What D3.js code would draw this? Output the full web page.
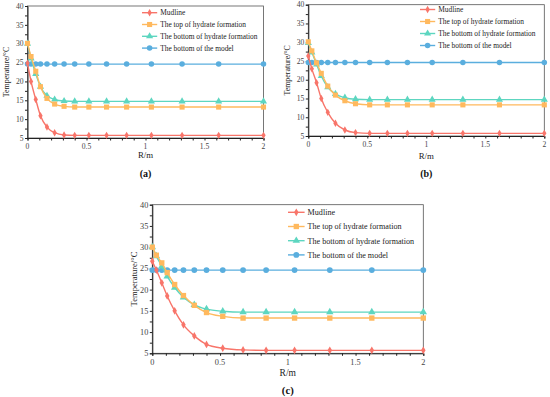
<!DOCTYPE html>
<html lang="en">
<head>
<meta charset="UTF-8">
<title>Temperature vs R</title>
<script src="https://d3js.org/d3.v7.min.js"></script>
<style>
  body { margin: 0; background: #fff; }
  svg { display: block; font-family: 'Liberation Serif', 'Times New Roman', serif; }
</style>
</head>
<body>
<svg id="chart" width="550" height="397"></svg>
<script>
// radial distance of the sample points (m)
const rValues = [0, 0.03, 0.07, 0.11, 0.165, 0.23, 0.31, 0.40, 0.52, 0.67, 0.84, 1.05, 1.31, 1.62, 2.0];

const seriesNames = ["Mudline", "The top of hydrate formation", "The bottom of hydrate formation", "The bottom of the model"];
const seriesColors = ["#f8756a", "#ffb95e", "#5dd6c0", "#5aaede"];
const seriesMarkers = ["diamond", "square", "triangle", "circle"];

// panel (a)
const mudlineA   = [24.8, 20.0, 15.2, 10.9, 7.9, 6.4, 5.8, 5.7, 5.7, 5.7, 5.7, 5.7, 5.7, 5.7, 5.7];
const topHydA    = [30.1, 26.6, 22.7, 18.6, 15.5, 14.0, 13.4, 13.2, 13.2, 13.2, 13.2, 13.2, 13.2, 13.2, 13.2];
const botHydA    = [30.0, 26.1, 22.0, 18.6, 16.2, 15.2, 14.8, 14.7, 14.7, 14.7, 14.7, 14.7, 14.7, 14.7, 14.7];
const botModelA  = [24.6, 24.6, 24.6, 24.6, 24.6, 24.6, 24.6, 24.6, 24.6, 24.6, 24.6, 24.6, 24.6, 24.6, 24.6];

// panel (b)
const mudlineB   = [26.3, 22.9, 19.2, 15.0, 11.3, 8.4, 6.6, 5.9, 5.7, 5.7, 5.7, 5.7, 5.7, 5.7, 5.7];
const topHydB    = [30.1, 27.7, 24.5, 21.7, 18.3, 15.9, 14.4, 13.6, 13.3, 13.3, 13.3, 13.3, 13.3, 13.3, 13.3];
const botHydB    = [29.8, 27.3, 24.1, 21.0, 18.0, 16.2, 15.2, 14.8, 14.7, 14.7, 14.7, 14.7, 14.7, 14.7, 14.7];
const botModelB  = [24.6, 24.6, 24.6, 24.6, 24.6, 24.6, 24.6, 24.6, 24.6, 24.6, 24.6, 24.6, 24.6, 24.6, 24.6];

// panel (c)
const mudlineC   = [26.7, 24.6, 21.6, 18.5, 15.0, 11.7, 9.1, 7.1, 6.2, 5.8, 5.7, 5.7, 5.7, 5.7, 5.7];
const topHydC    = [30.0, 28.1, 26.3, 24.0, 21.2, 18.6, 16.3, 14.6, 13.7, 13.3, 13.3, 13.3, 13.3, 13.3, 13.3];
const botHydC    = [30.0, 27.9, 25.5, 23.1, 20.5, 18.2, 16.4, 15.4, 14.9, 14.7, 14.7, 14.7, 14.7, 14.7, 14.7];
const botModelC  = [24.6, 24.6, 24.6, 24.6, 24.6, 24.6, 24.6, 24.6, 24.6, 24.6, 24.6, 24.6, 24.6, 24.6, 24.6];

const xTicks = [0, 0.5, 1, 1.5, 2];
const xTickLabels = ["0", "0.5", "1", "1.5", "2"];
const yTicks = [5, 10, 15, 20, 25, 30, 35, 40];
const panelLabels = ["(a)", "(b)", "(c)"];

const panels = [
  { left: 27.5, top: 6, right: 263.5, bottom: 138, font: 7.6, legX: 142, legY: 12.7, legDy: 11.8, label: panelLabels[0],
    series: [mudlineA, topHydA, botHydA, botModelA], ytitleX: 7.5, rmY: 157.5, capY: 176.5 },
  { left: 308.3, top: 4.7, right: 544.3, bottom: 136, font: 7.6, legX: 420, legY: 9.5, legDy: 12, label: panelLabels[1],
    series: [mudlineB, topHydB, botHydB, botModelB], ytitleX: 288.5, rmY: 159, capY: 176.5 },
  { left: 152.3, top: 204.7, right: 423.3, bottom: 353.3, font: 8.3, legX: 288, legY: 212.3, legDy: 14.2, label: panelLabels[2],
    series: [mudlineC, topHydC, botHydC, botModelC], ytitleX: 135, rmY: 375.5, capY: 393.5 }
];

const svg = d3.select("#chart");

function markerPath(type, size) {
  const sym = { diamond: d3.symbolDiamond, square: d3.symbolSquare, triangle: d3.symbolTriangle, circle: d3.symbolCircle }[type];
  return d3.symbol().type(sym).size(size)();
}
const markerSizes = { diamond: 16, square: 26, triangle: 22, circle: 24 };

panels.forEach(p => {
  const x = d3.scaleLinear().domain([0, 2]).range([p.left, p.right]);
  const y = d3.scaleLinear().domain([5, 40]).range([p.bottom, p.top]);
  const g = svg.append("g");
  const fs = p.font;

  // frame
  g.append("rect")
    .attr("x", p.left).attr("y", p.top)
    .attr("width", p.right - p.left).attr("height", p.bottom - p.top)
    .attr("fill", "none").attr("stroke", "#555").attr("stroke-width", 0.8);

  // x axis
  const xAxis = g.append("g").attr("transform", `translate(0,${p.bottom})`)
    .call(d3.axisBottom(x).tickValues(d3.range(0, 2.001, 0.1)).tickSize(2.5).tickFormat(""));
  xAxis.select(".domain").attr("stroke", "#222").attr("stroke-width", 1);
  xAxis.selectAll(".tick line").attr("stroke", "#222");
  g.selectAll(".xlab").data(xTicks).enter().append("text")
    .attr("x", d => x(d)).attr("y", p.bottom + fs + 3)
    .attr("text-anchor", "middle").attr("font-size", fs).attr("fill", "#444")
    .text((d, i) => xTickLabels[i]);

  // y axis
  const yAxis = g.append("g").attr("transform", `translate(${p.left},0)`)
    .call(d3.axisLeft(y).tickValues(d3.range(5, 40.001, 2.5)).tickSize(2.5).tickFormat(""));
  yAxis.select(".domain").attr("stroke", "#222").attr("stroke-width", 1);
  yAxis.selectAll(".tick line").attr("stroke", "#222");
  g.selectAll(".ylab").data(yTicks).enter().append("text")
    .attr("x", p.left - 4).attr("y", d => y(d) + fs * 0.35)
    .attr("text-anchor", "end").attr("font-size", fs).attr("fill", "#444")
    .text(d => d);

  // axis titles
  g.append("text")
    .attr("transform", `translate(${p.ytitleX},${(p.top + p.bottom) / 2}) rotate(-90)`)
    .attr("text-anchor", "middle").attr("dominant-baseline", "middle")
    .attr("font-size", fs + 0.3).attr("fill", "#222").text("Temperature/°C");
  g.append("text")
    .attr("x", (p.left + p.right) / 2).attr("y", p.rmY)
    .attr("text-anchor", "middle").attr("font-size", fs + 1.2).attr("fill", "#222").text("R/m");
  g.append("text")
    .attr("x", (p.left + p.right) / 2).attr("y", p.capY)
    .attr("text-anchor", "middle").attr("font-size", fs + 2.4).attr("font-weight", "bold")
    .attr("fill", "#111").text(p.label);

  const line = d3.line().x((d, i) => x(rValues[i])).y(d => y(d)).curve(d3.curveMonotoneX);

  // series, drawn so the bottom-of-model line sits beneath the others
  [3, 2, 1, 0].forEach(si => {
    const vals = p.series[si];
    const col = seriesColors[si];
    g.append("path").datum(vals).attr("d", line)
      .attr("fill", "none").attr("stroke", col).attr("stroke-width", 1.4);
    g.selectAll(".m" + si).data(vals).enter().append("path")
      .attr("transform", (d, i) => `translate(${x(rValues[i])},${y(d)})`)
      .attr("d", markerPath(seriesMarkers[si], markerSizes[seriesMarkers[si]] * (fs / 7.6)))
      .attr("fill", col);
  });

  // legend
  seriesNames.forEach((name, si) => {
    const ly = p.legY + si * p.legDy;
    const len = fs * 2;
    g.append("line").attr("x1", p.legX).attr("x2", p.legX + len).attr("y1", ly).attr("y2", ly)
      .attr("stroke", seriesColors[si]).attr("stroke-width", 1.4);
    g.append("path").attr("transform", `translate(${p.legX + len / 2},${ly})`)
      .attr("d", markerPath(seriesMarkers[si], markerSizes[seriesMarkers[si]] * (fs / 7.6)))
      .attr("fill", seriesColors[si]);
    g.append("text").attr("x", p.legX + len + 3).attr("y", ly + fs * 0.35)
      .attr("font-size", fs - 0.2).attr("fill", "#222").text(name);
  });
});
</script>
</body>
</html>
